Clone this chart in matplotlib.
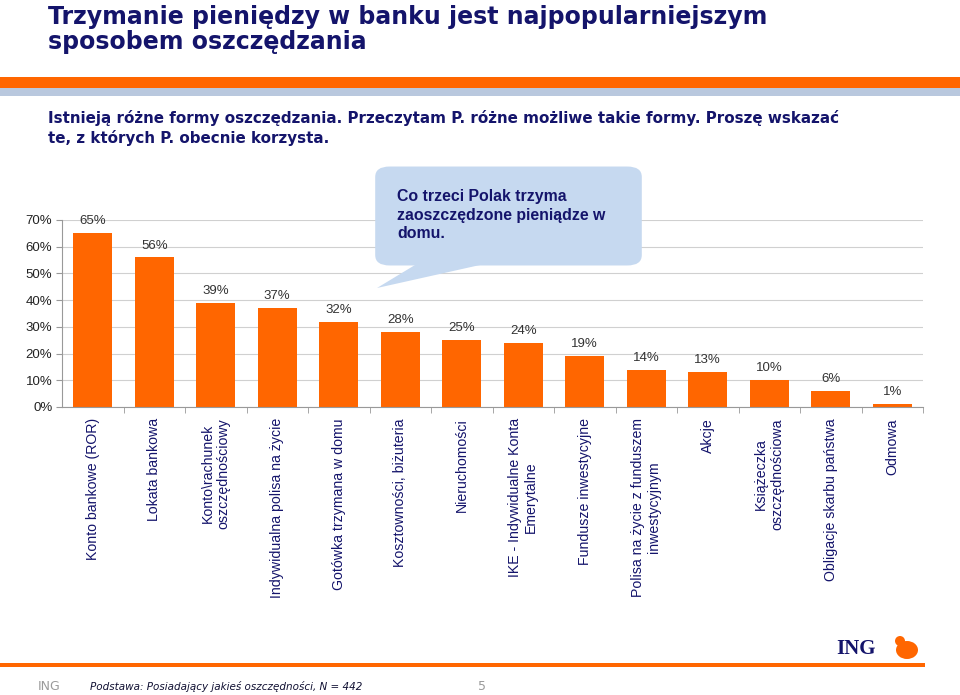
import matplotlib
matplotlib.use("Agg")
import matplotlib.pyplot as plt
from matplotlib.patches import FancyBboxPatch, Polygon, Rectangle, Ellipse

# data
categories = [
    "Konto bankowe (ROR)",
    "Lokata bankowa",
    "Konto\\rachunek\noszczędnościowy",
    "Indywidualna polisa na życie",
    "Gotówka trzymana w domu",
    "Kosztowności, biżuteria",
    "Nieruchomości",
    "IKE - Indywidualne Konta\nEmerytalne",
    "Fundusze inwestycyjne",
    "Polisa na życie z funduszem\ninwestycyjnym",
    "Akcje",
    "Książeczka\noszczędnościowa",
    "Obligacje skarbu państwa",
    "Odmowa",
]
values = [65, 56, 39, 37, 32, 28, 25, 24, 19, 14, 13, 10, 6, 1]
yticks = [0, 10, 20, 30, 40, 50, 60, 70]

title = "Trzymanie pieniędzy w banku jest najpopularniejszym\nsposobem oszczędzania"
question = ("Istnieją różne formy oszczędzania. Przeczytam P. różne możliwe takie formy. Proszę wskazać\n"
            "te, z których P. obecnie korzysta.")
callout = "Co trzeci Polak trzyma\nzaoszczędzone pieniądze w\ndomu."
footnote = "Podstawa: Posiadający jakieś oszczędności, N = 442"

ORANGE = "#ff6600"
NAVY = "#14146b"
W, H = 960, 695


def fx(x):
    return x / W


def fy(y):
    return 1 - y / H


fig = plt.figure(figsize=(9.6, 6.95), dpi=100)
fig.patch.set_facecolor("white")

# header
fig.text(fx(48), fy(5), title, ha="left", va="top", fontsize=17, fontweight="bold",
         color=NAVY, family="DejaVu Sans", linespacing=1.05)
fig.add_artist(Rectangle((0, fy(88)), 1, fy(77) - fy(88), transform=fig.transFigure,
                         facecolor=ORANGE, edgecolor="none"))
fig.add_artist(Rectangle((0, fy(96)), 1, fy(88) - fy(96), transform=fig.transFigure,
                         facecolor="#b9c8de", edgecolor="none"))
fig.text(fx(48), fy(110), question, ha="left", va="top", fontsize=10.9, fontweight="bold",
         color=NAVY, family="DejaVu Sans", linespacing=1.3)

# chart
ax = fig.add_axes([fx(62), fy(407), fx(923) - fx(62), fy(220) - fy(407)])
x = list(range(len(categories)))
bars = ax.bar(x, values, width=0.63, color=ORANGE, zorder=2)
for xi, v in zip(x, values):
    ax.text(xi, v + 2.2, f"{v}%", ha="center", va="bottom", fontsize=9.5,
            color="#333333", family="Liberation Sans")

ax.set_xlim(-0.5, len(categories) - 0.5)
ax.set_ylim(0, 70)
ax.set_yticks(yticks)
ax.set_yticklabels([f"{t}%" for t in yticks], fontsize=9.5, color="#222222", family="Liberation Sans")
ax.yaxis.grid(True, color="#d0d0d0", linewidth=0.8, zorder=0)
ax.set_axisbelow(True)

ax.set_xticks(x)
ax.set_xticklabels(categories, rotation=90, ha="center", va="top", multialignment="center",
                   fontsize=10.2, color=NAVY, family="Liberation Sans")
ax.tick_params(axis="x", length=0, pad=8)
ax.set_xticks([i + 0.5 for i in x], minor=True)
ax.tick_params(axis="x", which="minor", length=4, color="#999999")
ax.tick_params(axis="y", length=4, color="#999999", pad=3)

for s in ["top", "right"]:
    ax.spines[s].set_visible(False)
ax.spines["left"].set_color("#999999")
ax.spines["bottom"].set_color("#999999")

# callout bubble
fig.add_artist(FancyBboxPatch((fx(380), fy(262)), fx(637) - fx(380), fy(170) - fy(262),
                              boxstyle="round,pad=0.005,rounding_size=0.015",
                              transform=fig.transFigure, facecolor="#c6d9f0",
                              edgecolor="none", zorder=5))
fig.add_artist(Polygon([(fx(377), fy(288)), (fx(415), fy(265)), (fx(480), fy(265))],
                       closed=True, transform=fig.transFigure, facecolor="#c6d9f0",
                       edgecolor="none", zorder=5))
fig.text(fx(397), fy(189), callout, ha="left", va="top", fontsize=11.4, fontweight="bold",
         color=NAVY, family="Liberation Sans", linespacing=1.3, zorder=6)

# footer
fig.add_artist(Rectangle((0, fy(667)), fx(925), fy(663) - fy(667), transform=fig.transFigure,
                         facecolor=ORANGE, edgecolor="none"))
fig.text(fx(836), fy(649), "ING", ha="left", va="center", fontsize=15, fontweight="bold",
         color=NAVY, family="Liberation Serif")
fig.add_artist(Ellipse((fx(907), fy(650)), fx(22), fy(0) - fy(18), transform=fig.transFigure,
                       facecolor=ORANGE, edgecolor="none"))
fig.add_artist(Ellipse((fx(900), fy(641)), fx(10), fy(0) - fy(10), transform=fig.transFigure,
                       facecolor=ORANGE, edgecolor="none"))
fig.text(fx(38), fy(686), "ING", ha="left", va="center", fontsize=9, color="#9a9a9a",
         family="DejaVu Sans")
fig.text(fx(90), fy(687), footnote, ha="left", va="center", fontsize=7.5, style="italic",
         color="#111133", family="DejaVu Sans")
fig.text(fx(478), fy(686), "5", ha="left", va="center", fontsize=9, color="#9a9a9a",
         family="DejaVu Sans")

fig.savefig("out.png", dpi=100)
